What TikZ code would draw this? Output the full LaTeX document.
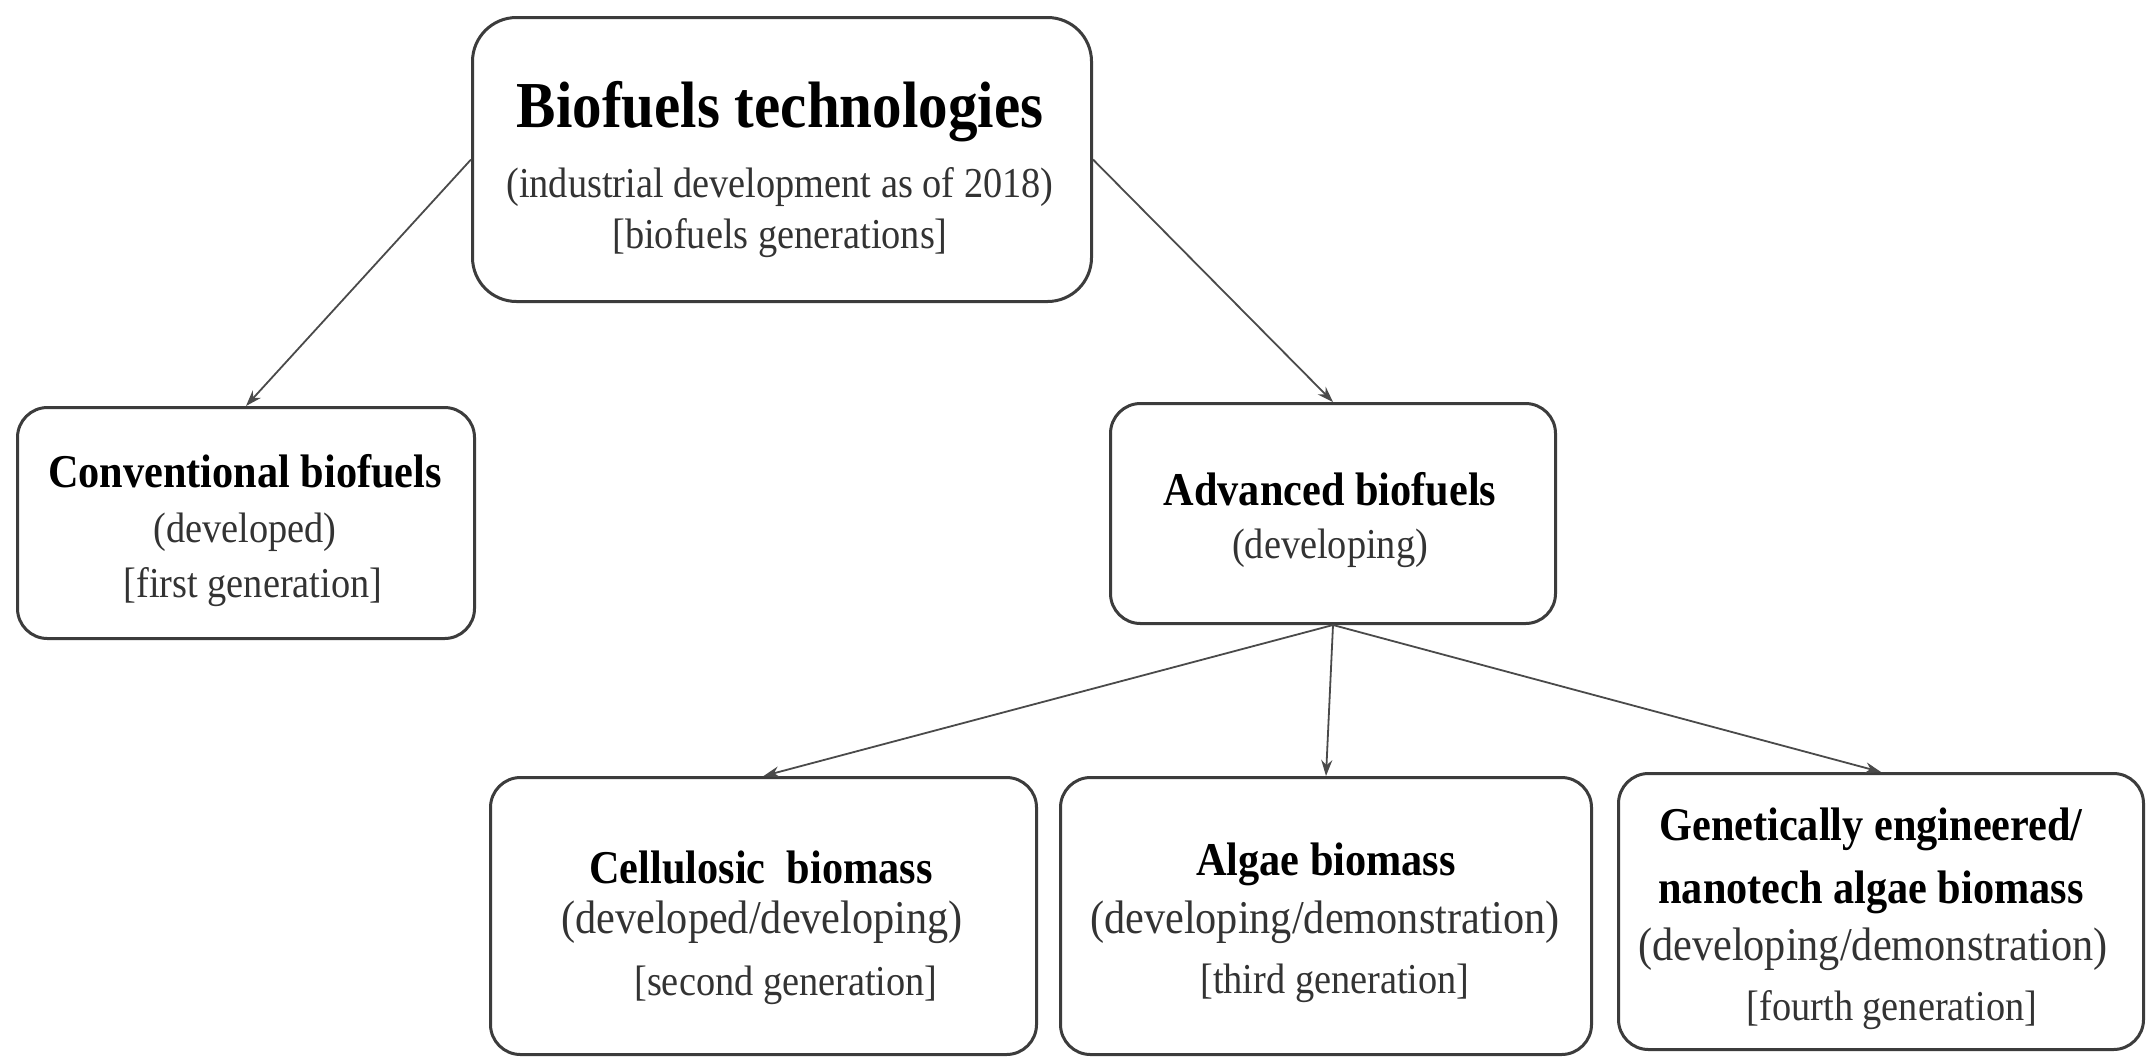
\documentclass[tikz,border=0pt]{standalone}
\usepackage{graphicx}
\usepackage{fontspec}
\setmainfont{Liberation Serif}
\usetikzlibrary{arrows.meta}
\definecolor{boxline}{HTML}{3C3C3C}
\definecolor{arrline}{HTML}{4A4A4A}
\definecolor{subtxt}{HTML}{333333}
\newcommand\nrw[1]{\scalebox{0.9}[1]{#1}}
\begin{document}
\begin{tikzpicture}[x=0.5pt,y=-0.5pt,
  boxnode/.style={draw=boxline,line width=1.5pt,rounded corners=15pt,inner sep=0pt,anchor=north west},
  conn/.style={draw=arrline,line width=0.9pt,-{Stealth[length=8pt,width=5.5pt]}},
  bigtitle/.style={anchor=base,inner sep=0pt,font=\fontsize{32.8pt}{35pt}\selectfont\bfseries},
  boldtxt/.style={anchor=base,inner sep=0pt,font=\fontsize{23.5pt}{26pt}\selectfont\bfseries},
  regtxt/.style={anchor=base,inner sep=0pt,text=subtxt,font=\fontsize{21.3pt}{24pt}\selectfont},
  bigreg/.style={anchor=base,inner sep=0pt,text=subtxt,font=\fontsize{23.5pt}{26pt}\selectfont}]
\useasboundingbox (0,0) rectangle (2146,1056);
\fill[white] (0,0) rectangle (2146,1056);
% boxes
\node[boxnode,rounded corners=22pt,minimum width=619*0.5pt,minimum height=284*0.5pt] (top) at (471,16) {};
\node[boxnode,minimum width=457*0.5pt,minimum height=231*0.5pt] (conv) at (16,406) {};
\node[boxnode,minimum width=445*0.5pt,minimum height=220*0.5pt] (adv) at (1109,402) {};
\node[boxnode,minimum width=546*0.5pt,minimum height=277*0.5pt] (cell) at (489,776) {};
\node[boxnode,minimum width=531*0.5pt,minimum height=277*0.5pt] (alg) at (1059,776) {};
\node[boxnode,minimum width=525*0.5pt,minimum height=276*0.5pt] (gen) at (1617,772) {};
% texts
\node[bigtitle] (t1) at (780,127) {\nrw{Biofuels technologies}};
\node[regtxt] (t2) at (780,197) {\nrw{(industrial development as of 2018)}};
\node[regtxt] (t3) at (780,248) {\nrw{[biofuels generations]}};
\node[boldtxt] (c1) at (245,487) {\nrw{Conventional biofuels}};
\node[regtxt] (c2) at (245,542) {\nrw{(developed)}};
\node[regtxt] (c3) at (253,597) {\nrw{[first generation]}};
\node[boldtxt] (a1) at (1330,505) {\nrw{Advanced biofuels}};
\node[regtxt] (a2) at (1330,558) {\nrw{(developing)}};
\node[boldtxt] (l1) at (761,883) {\nrw{Cellulosic\ \ biomass}};
\node[bigreg] (l2) at (762,933) {\nrw{(developed/developing)}};
\node[regtxt] (l3) at (786,995) {\nrw{[second generation]}};
\node[boldtxt] (g1) at (1326,875) {\nrw{Algae biomass}};
\node[bigreg] (g2) at (1325,933) {\nrw{(developing/demonstration)}};
\node[regtxt] (g3) at (1335,993) {\nrw{[third generation]}};
\node[boldtxt] (n1) at (1871,840) {\nrw{Genetically engineered/}};
\node[boldtxt] (n2) at (1871,903) {\nrw{nanotech algae biomass}};
\node[bigreg] (n3) at (1873,960) {\nrw{(developing/demonstration)}};
\node[regtxt] (n4) at (1892,1020) {\nrw{[fourth generation]}};
% connectors
\draw[conn] (top.west) -- (conv.north);
\draw[conn] (top.east) -- (adv.north);
\draw[conn] (adv.south) -- (cell.north);
\draw[conn] (adv.south) -- (alg.north);
\draw[conn] (adv.south) -- (gen.north);
\end{tikzpicture}
\end{document}
